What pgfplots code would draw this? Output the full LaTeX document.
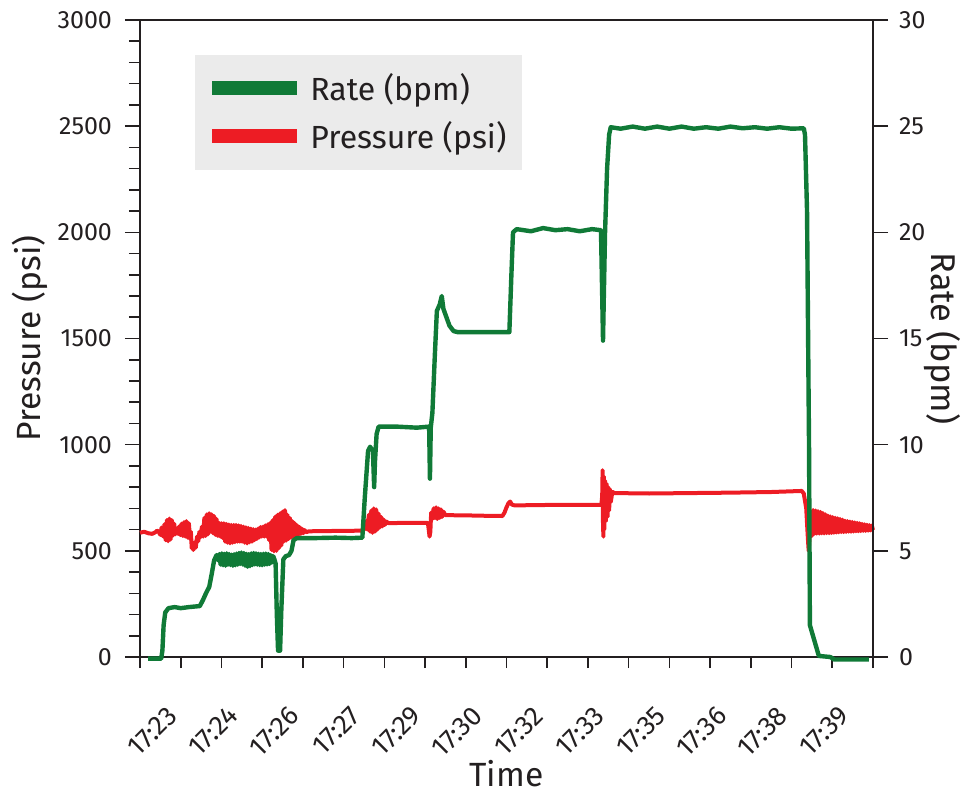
\documentclass[border=0pt]{standalone}
\usepackage{pgfplots}
\pgfplotsset{compat=1.18}
\usepackage{fontspec}
\setmainfont{Fira Sans}

\definecolor{rateGreen}{RGB}{16,122,55}
\definecolor{pressRed}{RGB}{237,28,36}
\definecolor{legGray}{RGB}{235,235,235}
\definecolor{txt}{RGB}{35,31,32}

\pgfplotsset{
  common/.style={
    scale only axis, width=366.5pt, height=318.5pt,
    xmin=0, xmax=18,
    clip=false,
    tick align=outside,
    axis line style={line width=1pt, txt},
    every tick/.style={line width=0.8pt, txt},
    major tick length=7.5pt, minor tick length=5.5pt,
    tick label style={font=\fontsize{12.5}{14}\selectfont, txt},
    /pgf/number format/assume math mode=true,
    /pgf/number format/1000 sep={},
  },
}

\begin{document}
\begin{tikzpicture}
\begin{axis}[common,
    ymin=0, ymax=3000,
    ytick={0,500,...,3000},
    minor ytick={100,200,...,2900},
    ytick pos=left,
    xtick pos=bottom,
    xtick={0.42,1.92,3.42,4.92,6.42,7.92,9.42,10.92,12.42,13.92,15.42,16.92},
    xticklabels={17:23,17:24,17:26,17:27,17:29,17:30,17:32,17:33,17:35,17:36,17:38,17:39},
    minor xtick={0,1,...,18},
    major x tick style={draw=none},
    xticklabel style={rotate=45, anchor=north east, xshift=-5pt, yshift=-11pt, font=\fontsize{13.5}{15}\selectfont},
    yticklabel style={xshift=-3pt},
    ylabel={Pressure (psi)},
    xlabel={Time},
    every axis y label/.style={at={(axis description cs:-0.150,0.5)}, rotate=90, anchor=center, font=\fontsize{16.8}{20}\selectfont, txt},
    every axis x label/.style={at={(axis description cs:0.5,-0.183)}, anchor=center, inner sep=1pt, font=\fontsize{16.8}{19}\selectfont, txt},
]
\addplot[pressRed, line width=2pt, line join=round] coordinates {
(0,585) (0.1,590) (0.2,583) (0.3,580) (0.38,588) (0.42,595)
(0.45,592) (0.50,575) (0.53,610) (0.57,567) (0.60,625) (0.63,550) (0.66,645) (0.69,545)
(0.72,652) (0.75,553) (0.78,645) (0.81,572) (0.84,628) (0.87,578) (0.90,598) (0.93,580)
(0.96,615) (0.99,574) (1.02,628) (1.05,570) (1.08,635) (1.11,567) (1.14,640) (1.17,562)
(1.20,630) (1.23,555) (1.25,590) (1.27,512) (1.29,530) (1.31,504) (1.34,540) (1.37,515)
(1.40,567) (1.43,545) (1.46,590) (1.49,565) (1.52,614) (1.55,567) (1.58,655) (1.61,570)
(1.64,672) (1.67,578) (1.70,677) (1.73,590) (1.76,672) (1.79,583) (1.82,664) (1.85,575)
(1.88,650) (1.91,570) (1.94,632) (1.97,567) (2.00,630) (2.03,560) (2.06,630) (2.09,543)
(2.12,627) (2.15,538) (2.18,624) (2.21,535) (2.24,622) (2.27,538) (2.30,622) (2.33,541)
(2.36,622) (2.39,543) (2.42,620) (2.45,543) (2.48,617) (2.51,543) (2.54,614) (2.57,538)
(2.60,611) (2.63,535) (2.66,608) (2.69,540) (2.72,605) (2.75,543) (2.78,602) (2.81,550)
(2.84,600) (2.87,556) (2.90,605) (2.93,563) (2.96,612) (2.99,567) (3.02,614) (3.05,567)
(3.08,620) (3.11,567) (3.14,625) (3.17,550) (3.20,632) (3.23,504) (3.26,645) (3.29,498)
(3.32,661) (3.35,500) (3.38,670) (3.41,512) (3.44,677) (3.47,525) (3.50,685) (3.53,543)
(3.56,692) (3.59,548) (3.62,670) (3.65,556) (3.68,655) (3.71,562) (3.74,640) (3.77,568)
(3.80,630) (3.83,572) (3.86,620) (3.89,576) (3.92,612) (3.95,580) (3.98,604) (4.01,583)
(4.04,598) (4.08,588) (4.15,592) (4.5,593) (5.0,594) (5.45,595)
(5.50,600) (5.55,640) (5.58,600) (5.62,670) (5.65,590) (5.68,690) (5.71,585) (5.74,700)
(5.77,590) (5.80,695) (5.83,600) (5.86,675) (5.89,610) (5.92,660) (5.95,615) (5.98,648)
(6.01,622) (6.05,638) (6.1,630) (6.5,632) (7.0,632) (7.07,631)
(7.09,600) (7.11,567) (7.13,590) (7.15,680) (7.18,650) (7.21,700) (7.24,655) (7.27,705)
(7.30,650) (7.33,700) (7.36,655) (7.39,695) (7.42,660) (7.45,685) (7.50,668) (8.0,667)
(8.5,665) (8.9,664) (8.95,680) (9.0,705) (9.05,725) (9.09,732) (9.13,718) (9.2,714)
(10,716) (10.5,716) (11.0,717) (11.33,717)
(11.35,760) (11.36,880) (11.37,620) (11.38,567) (11.39,850) (11.40,600) (11.42,830) (11.44,640)
(11.46,815) (11.48,660) (11.50,800) (11.52,690) (11.54,790) (11.56,730) (11.60,778) (11.65,772)
(12.5,770) (13.5,772) (14.5,774) (15.5,777) (16.25,782)
(16.30,770) (16.36,700) (16.40,560) (16.42,500) (16.44,560) (16.47,660) (16.50,570)
(16.53,692) (16.56,580) (16.59,690) (16.62,581) (16.65,687) (16.68,581) (16.71,683) (16.74,582)
(16.77,678) (16.80,582) (16.83,672) (16.86,583) (16.89,666) (16.92,583) (16.95,662) (16.98,584)
(17.01,659) (17.04,585) (17.07,656) (17.10,586) (17.13,653) (17.16,587) (17.19,650) (17.22,588)
(17.25,647) (17.28,588) (17.31,642) (17.34,589) (17.37,640) (17.40,590) (17.43,638) (17.46,590)
(17.49,636) (17.52,591) (17.55,634) (17.58,592) (17.61,632) (17.64,592) (17.67,630) (17.70,593)
(17.73,627) (17.76,594) (17.79,625) (17.82,594) (17.85,623) (17.88,595) (17.91,621) (17.94,596)
(17.97,619) (18.00,598)
};
\end{axis}

\begin{axis}[common,
    ymin=0, ymax=30,
    ytick={0,5,...,30},
    axis y line*=right,
    axis x line=none,
    yticklabel style={xshift=2pt},
    ylabel={Rate (bpm)},
    every axis y label/.style={at={(axis description cs:1.094,0.5)}, rotate=-90, anchor=center, font=\fontsize{17.2}{20}\selectfont, txt},
    legend style={at={(axis description cs:0.075,0.945)}, anchor=north west,
      fill=legGray, draw=none, font=\fontsize{16}{19}\selectfont, text=txt,
      inner xsep=5pt, inner ysep=6pt, row sep=3pt,
      nodes={inner sep=3pt}},
    legend cell align=left,
    legend image code/.code={\draw[#1, line width=7pt, line cap=butt] (0pt,0pt) -- (42.5pt,0pt);},
]
\addplot[rateGreen, line width=2.2pt, line join=round] coordinates {
(0.20,-0.08) (0.52,-0.08) (0.55,0.3) (0.58,1.5) (0.62,2.1) (0.70,2.3) (0.85,2.35) (1.0,2.3)
(1.2,2.35) (1.47,2.4) (1.55,2.7) (1.62,3.0) (1.70,3.3) (1.76,3.9) (1.82,4.55) (1.88,4.8)
(1.92,4.55) (1.95,4.85) (1.98,4.35) (2.01,4.88) (2.04,4.32) (2.07,4.86) (2.10,4.30) (2.13,4.88)
(2.16,4.35) (2.19,4.85) (2.22,4.33) (2.25,4.82) (2.28,4.30) (2.31,4.84) (2.34,4.32) (2.37,4.87)
(2.40,4.35) (2.43,4.90) (2.46,4.38) (2.49,4.92) (2.52,4.36) (2.55,4.90) (2.58,4.30) (2.61,4.86)
(2.64,4.25) (2.67,4.84) (2.70,4.28) (2.73,4.88) (2.76,4.33) (2.79,4.90) (2.82,4.36) (2.85,4.88)
(2.88,4.35) (2.91,4.86) (2.94,4.33) (2.97,4.85) (3.00,4.32) (3.03,4.86) (3.06,4.35) (3.09,4.87)
(3.12,4.36) (3.15,4.85) (3.18,4.38) (3.21,4.80) (3.24,4.45) (3.27,4.75) (3.30,4.6)
(3.33,4.4) (3.36,2.0) (3.39,0.3) (3.44,0.3) (3.47,2.2) (3.52,4.6) (3.58,4.75) (3.66,4.8)
(3.72,5.0) (3.77,5.5) (3.85,5.6) (4.3,5.6) (4.8,5.62) (5.2,5.6) (5.46,5.62)
(5.52,7.5) (5.6,9.7) (5.65,9.9) (5.72,9.7) (5.75,8.0) (5.77,9.2) (5.81,10.5) (5.86,10.85)
(6.3,10.85) (6.8,10.8) (7.10,10.85) (7.12,8.4) (7.14,10.8) (7.18,11.5) (7.24,14.2) (7.29,16.3)
(7.36,16.6) (7.41,17.0) (7.45,16.4) (7.6,15.6) (7.7,15.35) (7.8,15.3) (8.3,15.3) (8.8,15.3)
(9.07,15.3) (9.12,18) (9.16,20.0) (9.25,20.15) (9.6,20.05) (9.9,20.2) (10.2,20.1) (10.5,20.15)
(10.8,20.05) (11.1,20.15) (11.32,20.1) (11.35,17) (11.37,14.9) (11.39,17) (11.42,20) (11.47,23)
(11.52,24.6) (11.56,24.95) (11.8,24.88) (12.1,24.98) (12.4,24.88) (12.7,24.98) (13.0,24.88) (13.3,24.98)
(13.6,24.88) (13.9,24.95) (14.2,24.88) (14.5,24.98) (14.8,24.9) (15.1,24.95) (15.4,24.88) (15.7,24.95)
(16.0,24.88) (16.3,24.9) (16.33,24.6) (16.38,21) (16.43,9.7) (16.45,1.5) (16.67,0.05) (16.95,0.0)
(17.05,-0.12) (17.9,-0.12)
};
\addlegendentry{Rate (bpm)}
\addlegendimage{pressRed, line width=2pt}
\addlegendentry{Pressure (psi)}
\end{axis}
\pgfresetboundingbox
\path (-70pt,-69.5pt) rectangle (416pt,328.5pt);
\end{tikzpicture}
\end{document}
